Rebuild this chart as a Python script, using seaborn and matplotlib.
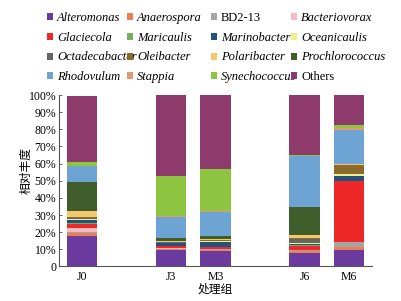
import matplotlib
matplotlib.use('Agg')
from matplotlib import pyplot as plt
from matplotlib.patches import Patch
import pandas as pd
import seaborn as sns
import numpy as np

# genera, bottom to top of each stacked bar
genera = ['Alteromonas', 'Anaerospora', 'BD2-13', 'Bacteriovorax',
          'Glaciecola', 'Maricaulis', 'Marinobacter', 'Oceanicaulis',
          'Octadecabacter', 'Oleibacter', 'Polaribacter', 'Prochlorococcus',
          'Rhodovulum', 'Stappia', 'Synechococcus', 'Others']
colors = ['#6b3a9e', '#ee7d52', '#a5a5a5', '#f6bcc4',
          '#ee2828', '#74b05a', '#24527f', '#eef08e',
          '#656565', '#8c6a2e', '#f5c86c', '#3f5e2c',
          '#6ea4d4', '#e39a70', '#8dc440', '#8e3a6c']

groups = ['J0', 'J3', 'M3', 'J6', 'M6']
slot_order = ['J0', 'gap1', 'J3', 'M3', 'gap2', 'J6', 'M6']

# relative abundance (%) per group, same order as genera
j0 = [18.0, 1.5, 0.5, 2.5, 2.5, 0.5, 1.5, 0.5, 1.0, 0.5, 3.5, 17.0, 9.0, 0.3, 2.3, 38.4]
j3 = [9.5, 0.7, 0.2, 0.3, 1.2, 0.2, 1.3, 0.4, 0.5, 0.2, 0.5, 1.5, 12.5, 0.2, 23.7, 47.1]
m3 = [9.2, 0.5, 0.2, 0.2, 1.2, 0.2, 2.7, 0.5, 0.3, 0.2, 0.6, 1.8, 14.3, 0.2, 24.5, 43.4]
j6 = [7.7, 1.5, 0.3, 0.3, 2.0, 0.5, 0.8, 0.5, 2.5, 0.4, 1.9, 16.4, 29.6, 0.3, 0.6, 34.7]
m6 = [9.8, 1.4, 2.9, 0.3, 35.5, 0.2, 2.9, 0.8, 0.3, 4.9, 0.5, 0.2, 19.8, 1.2, 1.7, 17.6]

plt.rcParams['font.family'] = ['Liberation Serif', 'Noto Sans CJK SC']
plt.rcParams['axes.unicode_minus'] = False

df = pd.DataFrame({'J0': j0, 'J3': j3, 'M3': m3, 'J6': j6, 'M6': m6}, index=genera)
cum = df.cumsum()
long = cum.reset_index().melt(id_vars='index', var_name='group', value_name='cum')
long = long.rename(columns={'index': 'genus'})

fig = plt.figure(figsize=(4.01, 3.01), dpi=100)
ax = fig.add_axes([0.147, 0.115, 0.781, 0.569])

# draw tallest cumulative first so lower segments overlay
for genus, col in reversed(list(zip(genera, colors))):
    sub = long[long['genus'] == genus]
    sns.barplot(data=sub, x='group', y='cum', order=slot_order, color=col,
                saturation=1, width=0.68, errorbar=None, ax=ax, linewidth=0)

ax.set_ylim(0, 100)
ax.set_xlim(-0.52, 6.52)
ax.set_yticks(np.arange(0, 101, 10))
ax.set_yticklabels(['0'] + [f'{v}%' for v in range(10, 101, 10)], fontsize=8.5)
ax.set_xticks([0, 2, 3, 5, 6])
ax.set_xticklabels(groups, fontsize=8.5)
ax.tick_params(axis='x', length=0, pad=3)
ax.tick_params(axis='y', direction='in', length=2, pad=2, width=0.6, color='#555555')
for s in ['top', 'right']:
    ax.spines[s].set_visible(False)
for s in ['left', 'bottom']:
    ax.spines[s].set_color('#555555')
    ax.spines[s].set_linewidth(0.8)
ax.set_ylabel('相对丰度', fontsize=8.5, family=['Noto Sans CJK SC'])
ax.yaxis.set_label_coords(-0.083, 0.56)
ax.set_xlabel('处理组', fontsize=8.5, family=['Noto Sans CJK SC'], labelpad=0)

# legend: 4 fixed-position columns, filled row by row
col_x = [47, 127, 211, 291]
for c, x in enumerate(col_x):
    idx = [r * 4 + c for r in range(4)]
    handles = [Patch(facecolor=colors[i], edgecolor='none') for i in idx]
    labels = [genera[i] for i in idx]
    leg = fig.legend(handles, labels, loc='upper left',
                     bbox_to_anchor=(x / 401, 1 - 12 / 301), frameon=False,
                     fontsize=9, handlelength=0.5, handleheight=0.5,
                     handletextpad=0.3, labelspacing=0.62, borderpad=0,
                     borderaxespad=0)
    for t in leg.get_texts():
        if t.get_text() not in ('BD2-13', 'Others'):
            t.set_fontstyle('italic')

fig.savefig('out.png', dpi=100)
